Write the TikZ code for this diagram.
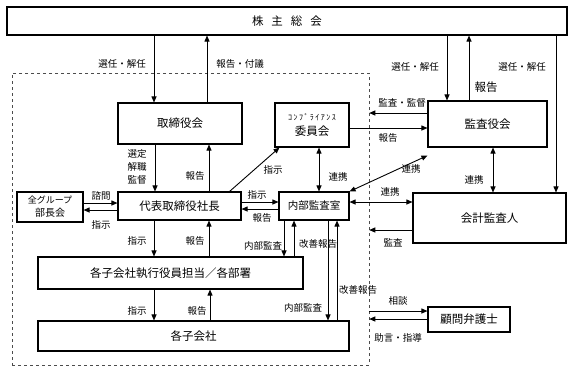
\documentclass[tikz,border=0pt]{standalone}
\usepackage{fontspec}
\setmainfont{Noto Sans CJK JP}
\usetikzlibrary{arrows.meta,calc}
\begin{document}
\begin{tikzpicture}[x=1pt,y=-1pt,
  box/.style={draw,line width=1.1pt,inner sep=0pt,font=\fontsize{11.5}{13}\selectfont},
  lbl/.style={inner sep=0pt,font=\fontsize{9.5}{11}\selectfont},
  con/.style={line width=0.9pt,-{Triangle[length=6pt,width=5pt]}},
  dcon/.style={line width=0.9pt,{Triangle[length=6pt,width=5pt]}-{Triangle[length=6pt,width=5pt]}},
  pl/.style={line width=0.9pt}]
\useasboundingbox (0,0) rectangle (573,373);
% dashed group
\node[draw=black!70,dashed,line width=0.5pt,minimum width=357pt,minimum height=292pt,inner sep=0pt] (grp) at (190.5,219) {};
% boxes
\node[box,minimum width=560pt,minimum height=28pt] (kabu) at (287,21) {株\hspace{8pt}主\hspace{8pt}総\hspace{8pt}会};
\node[box,minimum width=124pt,minimum height=41pt] (tori) at (180,123.5) {取締役会};
\node[box,minimum width=74pt,minimum height=44pt,align=center] (comp) at (312,125) {{\fontsize{8}{9}\selectfont\addfontfeature{LetterSpace=18}ｺﾝﾌﾟﾗｲｱﾝｽ}\\[2pt]委員会};
\node[box,minimum width=119pt,minimum height=46pt] (kansa) at (487.5,124) {監査役会};
\node[box,minimum width=66pt,minimum height=30pt,align=center] (bucho) at (50,207) {{\fontsize{9}{10}\selectfont 全グループ}\\[0pt]{\fontsize{10}{11}\selectfont 部長会}};
\node[box,minimum width=123pt,minimum height=28pt] (daihyo) at (179.5,206) {代表取締役社長};
\node[box,minimum width=70pt,minimum height=28pt,font=\fontsize{10.5}{12}\selectfont] (naibu) at (314,206) {内部監査室};
\node[box,minimum width=153pt,minimum height=50pt] (kaikei) at (489.5,218) {会計監査人};
\node[box,minimum width=265pt,minimum height=32pt] (shikkou) at (170.5,273) {各子会社執行役員担当／各部署};
\node[box,minimum width=311pt,minimum height=30pt] (kogai) at (193.5,336) {各子会社};
\node[box,minimum width=82pt,minimum height=25pt] (bengo) at (469,319.5) {顧問弁護士};
% top connections
\draw[con] (154,0 |- kabu.south) -- (154,0 |- tori.north);
\draw[con] (207,0 |- tori.north) -- (207,0 |- kabu.south);
\draw[con] (447,0 |- kabu.south) -- (447,0 |- kansa.north);
\draw[con] (469,0 |- kansa.north) -- (469,0 |- kabu.south);
\draw[con] (556,0 |- kabu.south) -- (556,0 |- kaikei.north);
\node[lbl] (l1) at (122,64) {選任・解任};
\node[lbl] (l2) at (240,64) {報告・付議};
\node[lbl] (l3) at (415,67) {選任・解任};
\node[lbl] (l4) at (522,67) {選任・解任};
\node[lbl,font=\fontsize{11.5}{13}\selectfont] (l5) at (486,87) {報告};
% kansa
\draw[con] (kansa.west |- 0,113) -- (grp.east |- 0,113);
\node[lbl] (l6) at (402,103) {監査・監督};
\draw[con] (comp.east |- 0,128) -- (kansa.west |- 0,128);
\node[lbl] (l7) at (388,138) {報告};
\draw[dcon] (319,0 |- comp.south) -- (319,0 |- naibu.north);
\node[lbl] (l8) at (338,177) {連携};
\draw[dcon] ([yshift=-8pt]kansa.south west) -- (naibu.north east);
\node[lbl] (l9) at (411,169) {連携};
\draw[dcon] (naibu.east |- 0,202) -- (kaikei.west |- 0,202);
\node[lbl] (l10) at (390,192) {連携};
\draw[dcon] (493,0 |- kansa.south) -- (493,0 |- kaikei.north);
\node[lbl] (l11) at (474,180) {連携};
\draw[con] (kaikei.west |- 0,230) -- (grp.east |- 0,230);
\node[lbl] (l12) at (393,243) {監査};
% tori - daihyo
\draw[con] (155,0 |- tori.south) -- (155,0 |- daihyo.north);
\node[lbl,align=center] (l13) at (137,167) {選定\\[2pt]解職\\[2pt]監督};
\draw[con] (209,0 |- daihyo.north) -- (209,0 |- tori.south);
\node[lbl] (l14) at (195,176) {報告};
\draw[con] ([xshift=-12pt]daihyo.north east) -- ([xshift=5pt]comp.south west);
\node[lbl] (l15) at (273,170) {指示};
% bucho
\draw[con] (bucho.east |- 0,203) -- (daihyo.west |- 0,203);
\draw[con] (daihyo.west |- 0,210) -- (bucho.east |- 0,210);
\node[lbl] (l16) at (101,196) {諮問};
\node[lbl] (l17) at (101,225) {指示};
% daihyo - naibu
\draw[con] (daihyo.east |- 0,202) -- (naibu.west |- 0,202);
\draw[con] (naibu.west |- 0,209) -- (daihyo.east |- 0,209);
\node[lbl] (l18) at (257,195) {指示};
\node[lbl] (l19) at (262,218) {報告};
% daihyo - shikkou
\draw[con] (154,0 |- daihyo.south) -- (154,0 |- shikkou.north);
\draw[con] (209,0 |- shikkou.north) -- (209,0 |- daihyo.south);
\node[lbl] (l20) at (137,241) {指示};
\node[lbl] (l21) at (195,241) {報告};
% shikkou - kogai
\draw[con] (154,0 |- shikkou.south) -- (154,0 |- kogai.north);
\draw[con] (210,0 |- kogai.north) -- (210,0 |- shikkou.south);
\node[lbl] (l22) at (137,311) {指示};
\node[lbl] (l23) at (197,311) {報告};
% naibu audits
\draw[con] (284,0 |- naibu.south) -- (284,0 |- shikkou.north);
\draw[con] (294,0 |- shikkou.north) -- (294,0 |- naibu.south);
\node[lbl] (l24) at (263,246) {内部監査};
\node[lbl] (l25) at (318,244) {改善報告};
\draw[con] (328,0 |- naibu.south) -- (328,0 |- kogai.north);
\draw[con] (337,0 |- kogai.north) -- (337,0 |- naibu.south);
\node[lbl] (l26) at (303,308) {内部監査};
\node[lbl] (l27) at (358,290) {改善報告};
% bengo
\draw[con] (grp.east |- 0,311) -- (bengo.west |- 0,311);
\draw[con] (bengo.west |- 0,319) -- (grp.east |- 0,319);
\node[lbl] (l28) at (398,301) {相談};
\node[lbl] (l29) at (398,338) {助言・指導};
\end{tikzpicture}
\end{document}
